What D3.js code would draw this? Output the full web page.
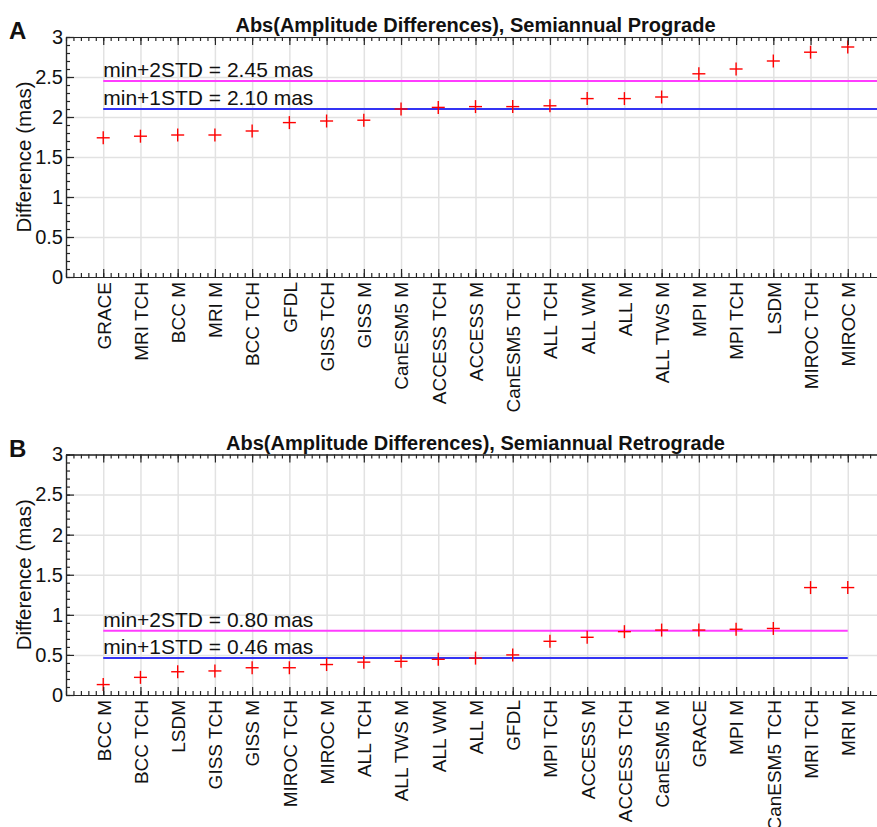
<!DOCTYPE html>
<html>
<head>
<meta charset="utf-8">
<script src="https://cdn.jsdelivr.net/npm/d3@7"></script>
<style>
  body { margin: 0; background: #fff; }
  svg { display: block; overflow: hidden; }
  text { font-family: "Liberation Sans", Arial, Helvetica, sans-serif; fill: #111; }
</style>
</head>
<body>
<div id="container"></div>
<script>
/* chart data */
const progradeNames = ["GRACE", "MRI TCH", "BCC M", "MRI M", "BCC TCH", "GFDL", "GISS TCH", "GISS M",
  "CanESM5 M", "ACCESS TCH", "ACCESS M", "CanESM5 TCH", "ALL TCH", "ALL WM", "ALL M", "ALL TWS M",
  "MPI M", "MPI TCH", "LSDM", "MIROC TCH", "MIROC M"];
const progradeValues = [1.74, 1.76, 1.775, 1.775, 1.825, 1.93, 1.95, 1.96, 2.10, 2.12, 2.13, 2.13,
  2.14, 2.23, 2.23, 2.25, 2.54, 2.60, 2.70, 2.81, 2.875];
const progradeStd = [2.45, 2.10];

const retrogradeNames = ["BCC M", "BCC TCH", "LSDM", "GISS TCH", "GISS M", "MIROC TCH", "MIROC M",
  "ALL TCH", "ALL TWS M", "ALL WM", "ALL M", "GFDL", "MPI TCH", "ACCESS M", "ACCESS TCH", "CanESM5 M",
  "GRACE", "MPI M", "CanESM5 TCH", "MRI TCH", "MRI M"];
const retrogradeValues = [0.13, 0.22, 0.29, 0.30, 0.34, 0.34, 0.38, 0.41, 0.42, 0.445, 0.46, 0.50,
  0.67, 0.72, 0.79, 0.81, 0.81, 0.82, 0.83, 1.34, 1.34];
const retrogradeStd = [0.80, 0.46];

const stdLabels = ["min+2STD", "min+1STD"];
const yTickValues = [0, 0.5, 1, 1.5, 2, 2.5, 3];

/* layout */
const W = 877, H = 827;
const left = 66, right = 885;
const AXIS = "#262626";
const GRID = "#e2e2e2";

const svg = d3.select("#container").append("svg")
  .attr("width", W).attr("height", H);

const x = d3.scaleLinear().domain([0, 22]).range([left, right]);

const drawPanel = (p) => {
  const y = d3.scaleLinear().domain([0, 3]).range([p.bottom, p.top]);
  const g = svg.append("g");
  const h = p.bottom - p.top;

  // grid
  const grid = g.append("g");
  grid.append("g").attr("transform", "translate(0," + p.bottom + ")")
    .call(d3.axisBottom(x).tickValues(d3.range(1, 22)).tickSize(-h).tickFormat(""));
  grid.append("g").attr("transform", "translate(" + left + ",0)")
    .call(d3.axisLeft(y).tickValues(yTickValues.slice(1)).tickSize(-(right - left)).tickFormat(""));
  grid.selectAll(".domain").remove();
  grid.selectAll("line").attr("stroke", GRID).attr("stroke-width", 1.5);

  // threshold lines
  const colors = ["#ff3cff", "#3434f4"];
  p.std.forEach((v, i) => {
    g.append("line")
      .attr("x1", x(1)).attr("x2", x(p.lineEnd))
      .attr("y1", y(v)).attr("y2", y(v))
      .attr("stroke", colors[i]).attr("stroke-width", 2);
    g.append("text")
      .attr("x", x(1)).attr("y", y(v) - 4)
      .attr("font-size", 21)
      .text(stdLabels[i] + " = " + v.toFixed(2) + " mas");
  });

  // markers
  const arm = 6.5;
  const pts = g.append("g").selectAll("g").data(p.values).enter().append("g")
    .attr("transform", (d, i) => "translate(" + x(i + 1) + "," + y(d) + ")")
    .attr("stroke", "#ff0000").attr("stroke-width", 1.4);
  pts.append("line").attr("x1", -arm).attr("x2", arm);
  pts.append("line").attr("y1", -arm).attr("y2", arm);

  // axes: minor ticks, major ticks, labels
  const axes = g.append("g");
  const minorX = d3.range(0, 111).map(k => k / 5);
  const minorY = d3.range(0, 31).map(k => k / 10);
  axes.append("g").attr("transform", "translate(0," + p.bottom + ")")
    .call(d3.axisBottom(x).tickValues(minorX).tickSize(-4).tickSizeOuter(0).tickFormat(""));
  axes.append("g").attr("transform", "translate(0," + p.top + ")")
    .call(d3.axisTop(x).tickValues(minorX).tickSize(-4).tickSizeOuter(0).tickFormat(""));
  axes.append("g").attr("transform", "translate(" + left + ",0)")
    .call(d3.axisLeft(y).tickValues(minorY).tickSize(-4).tickSizeOuter(0).tickFormat(""));

  const bx = axes.append("g").attr("transform", "translate(0," + p.bottom + ")")
    .call(d3.axisBottom(x).tickValues(d3.range(1, 22)).tickSize(-8).tickSizeOuter(0)
      .tickFormat((d) => p.names[d - 1]));
  bx.selectAll("text")
    .attr("transform", "rotate(-90)")
    .attr("x", -5).attr("y", 0).attr("dy", "0.36em")
    .attr("text-anchor", "end")
    .attr("font-size", 19);
  axes.append("g").attr("transform", "translate(0," + p.top + ")")
    .call(d3.axisTop(x).tickValues(d3.range(1, 22)).tickSize(-8).tickSizeOuter(0).tickFormat(""));
  axes.append("g").attr("transform", "translate(" + left + ",0)")
    .call(d3.axisLeft(y).tickValues(yTickValues).tickSize(-8).tickSizeOuter(0).tickFormat(d3.format("~g")))
    .selectAll("text").attr("font-size", 20);

  axes.selectAll(".domain, .tick line").attr("stroke", AXIS).attr("stroke-width", 1.2);
  axes.selectAll(".tick text").attr("fill", "#111").style("font-family", "'Liberation Sans', Arial, sans-serif");

  // axis title, panel title and letter
  g.append("text")
    .attr("transform", "translate(31," + (p.top + h / 2) + ") rotate(-90)")
    .attr("text-anchor", "middle")
    .attr("font-size", 20.5)
    .text("Difference (mas)");
  g.append("text")
    .attr("x", (left + right) / 2).attr("y", p.top - 5)
    .attr("text-anchor", "middle")
    .attr("font-size", 20).attr("font-weight", "bold")
    .text(p.title);
  g.append("text")
    .attr("x", 9).attr("y", p.top + 2)
    .attr("font-size", 24).attr("font-weight", "bold")
    .text(p.letter);
};

drawPanel({ top: 37, bottom: 277, names: progradeNames, values: progradeValues, std: progradeStd,
  lineEnd: 22, letter: "A", title: "Abs(Amplitude Differences), Semiannual Prograde" });
drawPanel({ top: 454.5, bottom: 695, names: retrogradeNames, values: retrogradeValues, std: retrogradeStd,
  lineEnd: 21, letter: "B", title: "Abs(Amplitude Differences), Semiannual Retrograde" });
</script>
</body>
</html>
